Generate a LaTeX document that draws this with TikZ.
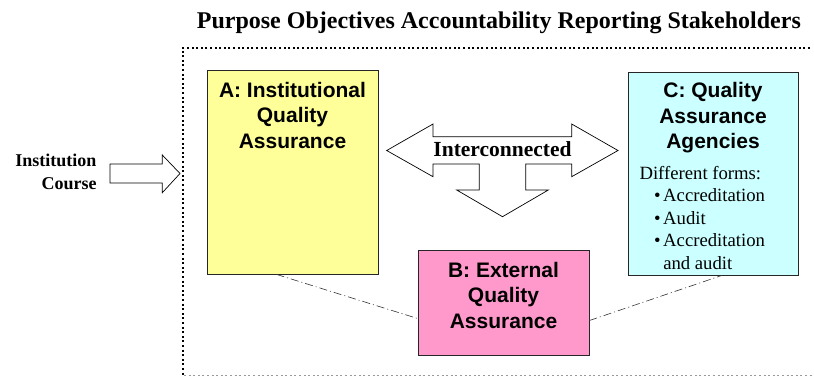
\documentclass[tikz,border=0pt]{standalone}
\usepackage{fontspec}
\setmainfont{Liberation Serif}
\setsansfont{Liberation Sans}
\usetikzlibrary{calc}
\usetikzlibrary{positioning}
\definecolor{qayellow}{HTML}{FFFF99}
\definecolor{qapink}{HTML}{FF99CC}
\definecolor{qacyan}{HTML}{CCFFFF}
\begin{document}
\begin{tikzpicture}[x=1pt, y=-1pt,
  qabox/.style={draw=black!85, line width=.8pt, inner sep=0},
  qatitle/.style={font=\sffamily\bfseries\fontsize{21}{25.5}\selectfont, align=center, anchor=north, inner sep=0},
  dashdot/.style={black!80, line width=.6pt, dash pattern=on 8pt off 3pt on 1pt off 3pt}]
\useasboundingbox (0,0) rectangle (814,376);
\node[font=\bfseries\fontsize{24}{28}\selectfont, anchor=base west, inner sep=0] (top) at (196.7,28.3) {Purpose Objectives Accountability Reporting Stakeholders};
\draw[black, line width=2pt, dash pattern=on 2pt off 2.6pt] (810,47.7) -- (182.7,47.7) -- (182.7,376);
\draw[black!40, line width=1pt, dash pattern=on 2pt off 2.6pt] (184,375) -- (814,375);
\node[qabox, fill=qayellow, minimum width=171pt, minimum height=204pt] (A) at (292.5,172) {};
\node[qabox, fill=qacyan, minimum width=170pt, minimum height=203pt] (C) at (713,173.5) {};
\node[qabox, fill=qapink, minimum width=171pt, minimum height=105pt] (B) at (503.5,302.5) {};
\node[qatitle] (Atext) at (292.5,81.7) {A: Institutional\\Quality\\Assurance};
\node[qatitle] (Btext) at (503.5,261.7) {B: External\\Quality\\Assurance};
\node[qatitle] (Ctext) at (713,82.3) {C: Quality\\Assurance\\Agencies};
\node[anchor=north west, inner sep=0, font=\fontsize{18.7}{22.5}\selectfont] (forms) at (639.3,163.5) {\begin{tabular}{@{\hspace{14.7pt}}l@{\hspace{2.5pt}}l@{}}
\multicolumn{2}{@{}l@{}}{Different forms:}\\
\textbullet & Accreditation\\
\textbullet & Audit\\
\textbullet & Accreditation\\
 & and audit
\end{tabular}};
\draw[dashdot] ([xshift=-16pt]A.south) -- ([yshift=-16pt]B.west);
\draw[dashdot] ([yshift=-18pt]B.east) -- ([xshift=9pt]C.south);
\node[font=\bfseries\fontsize{18}{23}\selectfont, align=right, anchor=north east, inner sep=0] (inst) at (96.7,153.8) {Institution\\Course};
\draw[black, line width=.7pt, fill=white] (110,164) -- (162.3,164) -- (162.3,155) -- (180,173.5) -- (162.3,192.7) -- (162.3,183) -- (110,183) -- cycle;
\draw[black, line width=.7pt, fill=white] (386.7,150.5) -- (433,124) -- (433,136.7) -- (571.7,136.7) -- (571.7,124) -- (618,150.5) -- (571.7,176.7) -- (571.7,164) -- (525.7,164) -- (525.7,190) -- (548.3,190) -- (502.5,216.7) -- (456.7,190) -- (479.3,190) -- (479.3,164) -- (433,164) -- (433,176.7) -- cycle;
\node[font=\bfseries\fontsize{21.5}{25}\selectfont, anchor=base, inner sep=0] (link) at (502.5,156.7) {Interconnected};
\end{tikzpicture}
\end{document}
